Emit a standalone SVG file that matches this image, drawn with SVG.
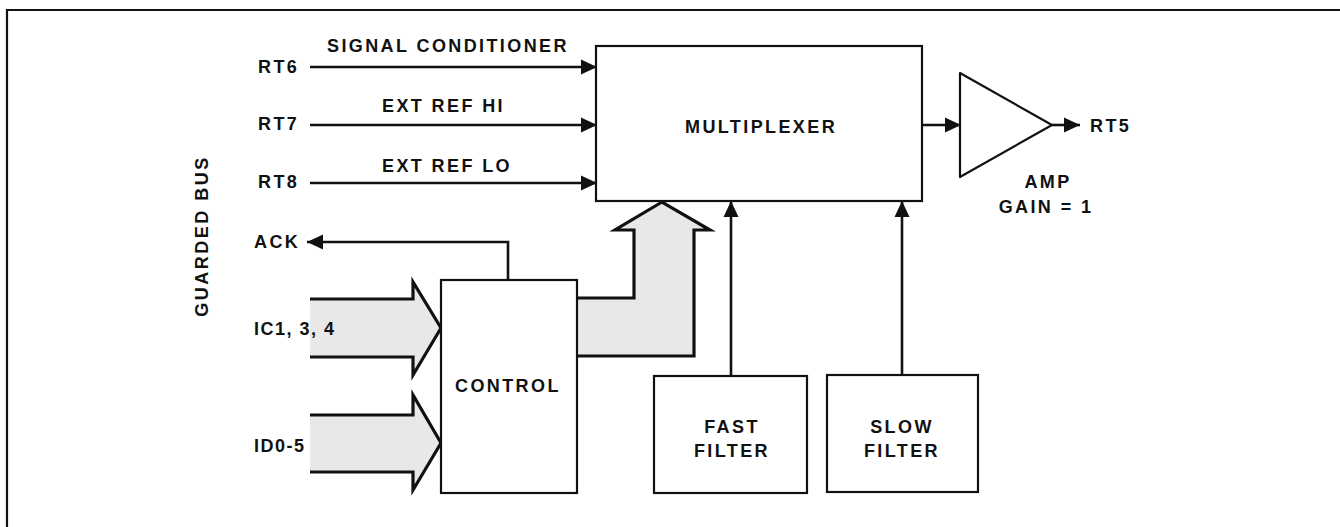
<svg xmlns="http://www.w3.org/2000/svg" width="1340" height="527" viewBox="0 0 1340 527">
<defs>
<style>
.t{font-family:"Liberation Sans",Arial,sans-serif;font-weight:bold;font-size:18px;letter-spacing:2.4px;fill:#111}
.box{fill:#fff;stroke:#111;stroke-width:2.2}
.w{fill:none;stroke:#111;stroke-width:2.6}
.bus{fill:#e8e8e8;stroke:none}
.busl{fill:none;stroke:#111;stroke-width:3.2;stroke-linejoin:miter}
</style>
<marker id="ah" viewBox="0 0 16 16" markerUnits="userSpaceOnUse" markerWidth="16" markerHeight="16" refX="16" refY="8" orient="auto">
<path d="M0,0.5 L16,8 L0,15.5 z" fill="#111"/>
</marker>
</defs>
<rect width="1340" height="527" fill="#fff"/>
<g id="frame">
<path d="M7,527 V10 H1340" fill="none" stroke="#111" stroke-width="2.2"/>
</g>
<text class="t" transform="translate(208,236) rotate(-90)" text-anchor="middle" style="letter-spacing:2.5px">GUARDED BUS</text>

<g id="connectors">
<line class="w" x1="310" y1="67" x2="597" y2="67" marker-end="url(#ah)"/>
<line class="w" x1="310" y1="125" x2="597" y2="125" marker-end="url(#ah)"/>
<line class="w" x1="310" y1="183" x2="597" y2="183" marker-end="url(#ah)"/>
<path class="w" d="M508,280 V242 H307" marker-end="url(#ah)"/>
<line class="w" x1="731" y1="376" x2="731" y2="201" marker-end="url(#ah)"/>
<line class="w" x1="902" y1="375" x2="902" y2="201" marker-end="url(#ah)"/>
<line class="w" x1="922" y1="125" x2="961" y2="125" marker-end="url(#ah)"/>
<line class="w" x1="1052" y1="125" x2="1080" y2="125" marker-end="url(#ah)"/>
<polygon class="bus" points="310,299 413,299 413,282 441,328 413,375 413,357 310,357"/>
<polyline class="busl" points="310,299 413,299 413,282 441,328 413,375 413,357 310,357"/>
<polygon class="bus" points="310,415 413,415 413,395 441,443 413,490 413,472 310,472"/>
<polyline class="busl" points="310,415 413,415 413,395 441,443 413,490 413,472 310,472"/>
<polygon class="bus" points="577,298 634,298 634,230 615,230 662,202 710,230 694,230 694,356 577,356"/>
<polyline class="busl" points="577,298 634,298 634,230 615,230 662,202 710,230 694,230 694,356 577,356"/>
</g>

<g id="labels">
<text class="t" x="258" y="73">RT6</text>
<text class="t" x="258" y="130">RT7</text>
<text class="t" x="258" y="188">RT8</text>
<text class="t" x="254" y="248">ACK</text>
<text class="t" x="254" y="335" style="letter-spacing:1.5px">IC1, 3, 4</text>
<text class="t" x="254" y="452" style="letter-spacing:1.5px">ID0-5</text>
<text class="t" x="327" y="52">SIGNAL CONDITIONER</text>
<text class="t" x="382" y="112">EXT REF HI</text>
<text class="t" x="382" y="172">EXT REF LO</text>
</g>

<g id="multiplexer">
<rect class="box" x="596" y="46" width="326" height="155"/>
<text class="t" x="685" y="133">MULTIPLEXER</text>
</g>

<g id="control">
<rect class="box" x="441" y="280" width="136" height="213"/>
<text class="t" x="455" y="392">CONTROL</text>
</g>

<g id="fast-filter">
<rect class="box" x="654" y="376" width="153" height="117"/>
<text class="t" x="732" y="433" text-anchor="middle">FAST</text>
<text class="t" x="732" y="457" text-anchor="middle">FILTER</text>
</g>

<g id="slow-filter">
<rect class="box" x="827" y="375" width="151" height="117"/>
<text class="t" x="902" y="433" text-anchor="middle">SLOW</text>
<text class="t" x="902" y="457" text-anchor="middle">FILTER</text>
</g>

<g id="amp">
<path d="M960,73 L1052,125 L960,177 Z" fill="#fff" stroke="#111" stroke-width="2.2" stroke-linejoin="round"/>
<text class="t" x="1048" y="188" text-anchor="middle">AMP</text>
<text class="t" x="1046" y="213" text-anchor="middle">GAIN = 1</text>
</g>

<g id="rt5">
<text class="t" x="1090" y="132">RT5</text>
</g>
</svg>
